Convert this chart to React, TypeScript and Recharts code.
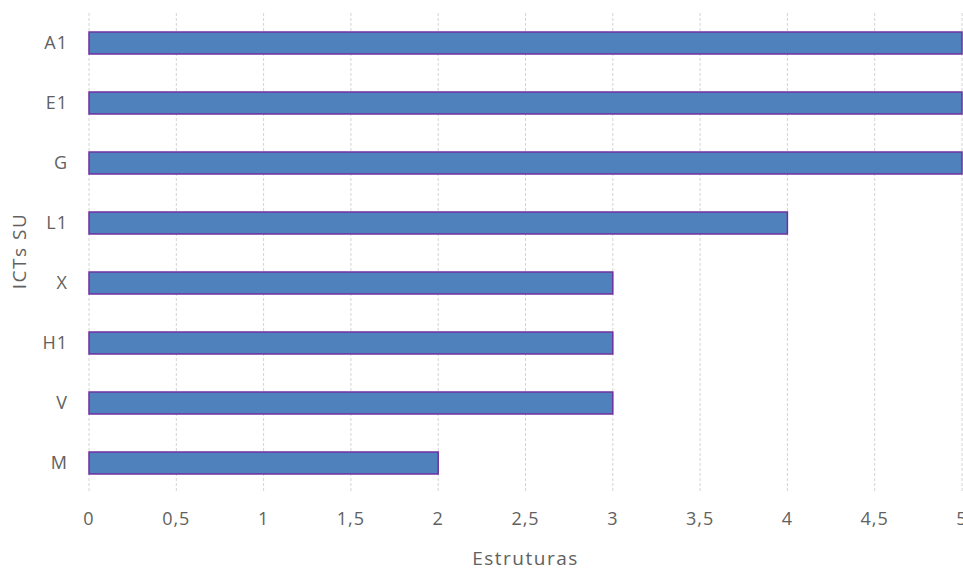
import { Bar, BarChart, CartesianGrid, Label, XAxis, YAxis } from "recharts";

const categories = ["A1", "E1", "G", "L1", "X", "H1", "V", "M"];
const estruturas = [5, 5, 5, 4, 3, 3, 3, 2];
const xTicks = [0, 0.5, 1, 1.5, 2, 2.5, 3, 3.5, 4, 4.5, 5];

const data = categories.map((name, i) => ({ name, value: estruturas[i] }));

const FONT = "'Open Sans', 'Segoe UI', sans-serif";
const TEXT = "#616161";

export default function App() {
  return (
    <div style={{ position: "absolute", left: 0, top: 0, background: "#fff" }}>
      <BarChart
        width={963}
        height={571}
        data={data}
        layout="vertical"
        margin={{ top: 13, right: 1, left: 0, bottom: 0 }}
      >
        <CartesianGrid horizontal={false} stroke="#d4d4d4" strokeDasharray="3 2" />
        <XAxis
          type="number"
          domain={[0, 5]}
          ticks={xTicks}
          interval={0}
          height={78}
          axisLine={false}
          tickLine={false}
          tickSize={0}
          tickMargin={19}
          tickFormatter={(v: number) => String(v).replace(".", ",")}
          tick={{ fill: TEXT, fontSize: 18, fontFamily: FONT, letterSpacing: 1 }}
        >
          <Label
            value="Estruturas"
            position="insideBottom"
            offset={6}
            style={{ fill: TEXT, fontSize: 19, fontFamily: FONT, letterSpacing: 1.5 }}
          />
        </XAxis>
        <YAxis
          type="category"
          dataKey="name"
          width={89}
          axisLine={false}
          tickLine={false}
          tickSize={0}
          tickMargin={21}
          tick={{ fill: TEXT, fontSize: 18, fontFamily: FONT, letterSpacing: 1 }}
        >
          <Label
            content={({ viewBox }: any) => {
              const cx = viewBox.x + 19;
              const cy = viewBox.y + viewBox.height / 2 - 2;
              return (
                <text
                  x={cx}
                  y={cy}
                  transform={`rotate(-90, ${cx}, ${cy})`}
                  textAnchor="middle"
                  dominantBaseline="central"
                  fill={TEXT}
                  fontSize={19}
                  fontFamily={FONT}
                  letterSpacing={1.5}
                >
                  ICTs SU
                </text>
              );
            }}
          />
        </YAxis>
        <Bar
          dataKey="value"
          fill="#4f81bd"
          stroke="#7030a0"
          strokeWidth={1.5}
          barSize={22}
          isAnimationActive={false}
        />
      </BarChart>
    </div>
  );
}
